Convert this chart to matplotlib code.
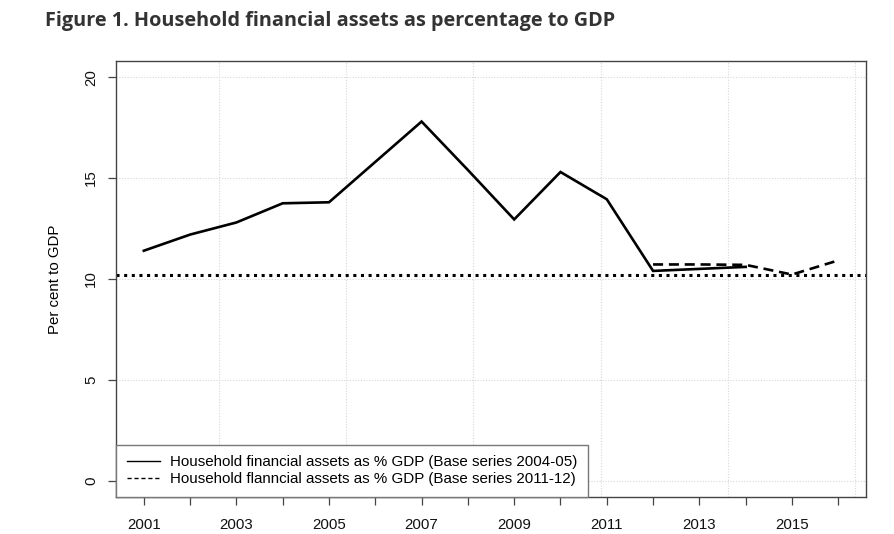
import numpy as np
import matplotlib.pyplot as plt


# =====================================
# Data
# =====================================

years_base0405 = [2001, 2002, 2003, 2004, 2005, 2006, 2007,
                  2008, 2009, 2010, 2011, 2012, 2013, 2014]
assets_base0405 = [11.4, 12.2, 12.8, 13.75, 13.8, 15.8, 17.8,
                   15.4, 12.95, 15.3, 13.95, 10.4, 10.5, 10.6]

years_base1112 = [2012, 2013, 2014, 2015, 2016]
assets_base1112 = [10.72, 10.72, 10.7, 10.22, 10.92]

reference_level = 10.2

label_0405 = "Household financial assets as % GDP (Base series 2004-05)"
label_1112 = "Household flanncial assets as % GDP (Base series 2011-12)"

x_ticks = list(range(2001, 2017))
x_labels = [str(y) if y % 2 == 1 else "" for y in x_ticks]
y_ticks = [0, 5, 10, 15, 20]
x_grid = [2002.62, 2005.37, 2008.12, 2010.87, 2013.62, 2016.37]


# =====================================
# Figure
# =====================================

plt.rcParams['font.family'] = ['Liberation Sans', 'DejaVu Sans']

fig = plt.figure(figsize=(8.94, 5.34), dpi=100)
ax = fig.add_axes([0.1298, 0.0693, 0.8389, 0.8165])

fig.text(
    45 / 894, 1 - 21 / 534,
    "Figure 1. Household financial assets as percentage to GDP",
    fontsize=14.3, fontweight='bold', family='Open Sans',
    color='#333333', va='center', ha='left'
)

# grid
for gx in x_grid:
    ax.axvline(gx, color='#d8d8d8', lw=0.8, ls=(0, (1, 1.5)), zorder=0)
for gy in y_ticks:
    ax.axhline(gy, color='#d8d8d8', lw=0.8, ls=(0, (1, 1.5)), zorder=0)

# series
ax.plot(years_base0405, assets_base0405, color='black', lw=1.9,
        solid_joinstyle='miter', zorder=3)
ax.plot(years_base1112, assets_base1112, color='black', lw=1.9,
        ls=(0, (3.8, 2.2)), zorder=3)

ax.axhline(reference_level, color='black', lw=2.2, ls=(0, (1, 1.5)),
           zorder=2)

ax.set_xlim(2000.4, 2016.6)
ax.set_ylim(-0.8, 20.8)

ax.set_xticks(x_ticks)
ax.set_xticklabels(x_labels)
ax.set_yticks(y_ticks)
ax.set_yticklabels([str(v) for v in y_ticks], rotation=90, va='center')

ax.tick_params(axis='both', length=6, width=0.9, color='#444444',
               labelsize=10.8, labelcolor='#111111', pad=9)
ax.tick_params(axis='y', pad=7)

for sp in ax.spines.values():
    sp.set_color('#444444')
    sp.set_linewidth(1.0)

ax.set_ylabel("Per cent to GDP", fontsize=10.8, labelpad=16)

# legend
leg_handles = [
    plt.Line2D([], [], color='black', lw=1.0),
    plt.Line2D([], [], color='black', lw=1.0, ls=(0, (3, 2))),
]
leg = ax.legend(
    leg_handles, [label_0405, label_1112],
    loc='lower left', bbox_to_anchor=(0, 0), borderaxespad=0,
    fancybox=False, edgecolor='#777777', framealpha=1,
    fontsize=10.9, handlelength=2.2, labelspacing=0.2,
    borderpad=0.7, handletextpad=0.65
)
leg.get_frame().set_linewidth(1.0)

fig.savefig("out.png", dpi=100)
